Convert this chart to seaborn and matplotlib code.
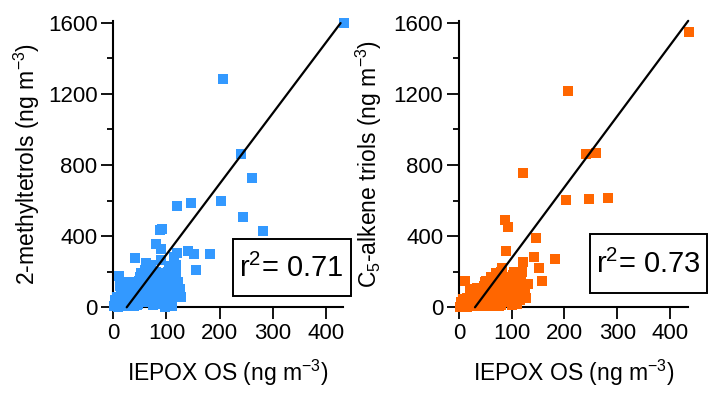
import matplotlib
matplotlib.use("Agg")
import matplotlib.pyplot as plt
import seaborn as sns
import numpy as np
import pandas as pd
from matplotlib.patches import Rectangle

# ---------------- data ----------------
# Left panel: IEPOX OS vs 2-methyltetrols
iepox_left = [2, 5, 8, 10, 12, 15, 18, 20, 22, 25, 28, 30, 32, 35, 38, 40, 3, 6, 14, 20,
              42, 45, 48, 50, 52, 55, 58, 60, 62, 65, 68, 70, 72, 75, 78, 80, 82, 85, 88, 90,
              95, 98, 100, 103, 105, 108, 110, 112, 115, 118, 120, 122, 125, 127, 97, 35, 46, 66,
              434, 207, 240, 260, 202, 120, 146, 244, 281, 88, 92, 80, 90, 141, 152, 182, 156,
              41, 11, 90, 115, 61, 119, 118, 25, 55, 75, 100, 110,
              5, 15, 25, 35, 45, 55, 65, 70, 75, 85, 95, 100, 105, 110, 50, 60, 30, 40, 20, 12,
              100, 115, 80, 90]
methyltetrols = [5, 15, 3, 30, 10, 45, 20, 5, 60, 35, 12, 70, 50, 25, 8, 90, 40, 60, 80, 95,
                 40, 110, 150, 70, 190, 30, 130, 210, 85, 160, 50, 240, 115, 180, 75, 200, 140, 40, 100, 170,
                 60, 3, 130, 200, 90, 30, 160, 220, 120, 180, 70, 140, 100, 60, 22, 120, 20, 110,
                 1600, 1283, 860, 725, 599, 569, 586, 506, 431, 432, 440, 356, 328, 318, 300, 300, 210,
                 275, 176, 266, 281, 247, 303, 240, 140, 60, 15, 20, 10,
                 25, 5, 50, 60, 15, 100, 120, 30, 90, 150, 190, 80, 230, 50, 170, 60, 110, 140, 130, 120,
                 170, 60, 20, 60]

# Right panel: IEPOX OS vs C5-alkene triols
iepox_right = [2, 5, 8, 10, 12, 15, 18, 20, 22, 25, 28, 30, 32, 35, 38, 40, 4, 8, 16, 24,
               42, 45, 48, 50, 52, 55, 58, 60, 62, 65, 68, 70, 72, 75, 78, 80, 82, 85, 88, 90,
               95, 98, 100, 103, 105, 108, 110, 112, 115, 116, 118, 120, 120, 122, 125, 127, 130,
               81, 89, 88, 93, 121, 143, 146, 152, 157, 182, 203, 207, 240, 260, 246, 283, 436,
               11, 121, 35, 55, 75, 100, 110, 65,
               5, 15, 25, 35, 45, 55, 65, 70, 75, 85, 95, 100, 105, 110, 50, 60, 30, 40, 20,
               100, 115, 80, 90, 60]
alkene_triols = [3, 10, 2, 20, 5, 30, 12, 40, 8, 25, 50, 15, 60, 35, 5, 70, 30, 45, 55, 75,
                 30, 90, 120, 55, 150, 20, 110, 170, 70, 140, 40, 190, 100, 160, 60, 200, 130, 30, 90, 160,
                 50, 40, 120, 180, 80, 20, 140, 190, 100, 181, 150, 60, 200, 120, 90, 50, 130,
                 219, 318, 490, 453, 753, 281, 391, 219, 148, 270, 603, 1217, 863, 865, 608, 614, 1545,
                 148, 256, 110, 15, 10, 15, 20, 80,
                 15, 3, 40, 50, 10, 80, 100, 25, 80, 130, 170, 70, 200, 40, 140, 50, 90, 110, 100,
                 150, 40, 15, 50, 10]

# linear fits (slope, intercept) and x-extent of the fit lines
fit_left = (3.97, -100.0)
fit_left_x = [25.2, 427.4]
fit_right = (3.98, -120.7)
fit_right_x = [30.3, 434.7]

r2_left = "0.71"
r2_right = "0.73"

xticks = [0, 100, 200, 300, 400]
yticks = [0, 400, 800, 1200, 1600]
yminor = [200, 600, 1000, 1400]

# ---------------- style ----------------
sns.set_style("ticks")
plt.rcParams["font.family"] = ["Liberation Sans", "DejaVu Sans"]
plt.rcParams["mathtext.fontset"] = "custom"
plt.rcParams["mathtext.rm"] = "Liberation Sans"
plt.rcParams["mathtext.it"] = "Liberation Sans"
plt.rcParams["mathtext.default"] = "regular"
plt.rcParams["text.color"] = "black"
plt.rcParams["axes.labelcolor"] = "black"
plt.rcParams["xtick.color"] = "black"
plt.rcParams["ytick.color"] = "black"

BLUE = "#3399FF"
ORANGE = "#FF6600"

fig = plt.figure(figsize=(7.19, 3.98), dpi=100)
ax1 = fig.add_axes([0.1576, 0.2279, 0.3195, 0.720])
ax2 = fig.add_axes([0.6384, 0.2279, 0.3190, 0.720])


def panel(ax, x, y, color, fit, fit_x, ylabel, r2, box, xmax):
    df = pd.DataFrame({"x": x, "y": y})
    sns.scatterplot(data=df, x="x", y="y", ax=ax, marker="s", s=44, color=color,
                    linewidth=0, clip_on=False, zorder=3)
    fx = np.array(fit_x)
    fdf = pd.DataFrame({"x": fx, "y": fit[0] * fx + fit[1]})
    sns.lineplot(data=fdf, x="x", y="y", ax=ax, color="black", linewidth=1.6,
                 zorder=4, clip_on=False)
    ax.set_xlim(0, xmax)
    ax.set_ylim(0, 1610)
    ax.set_xticks(xticks)
    ax.set_yticks(yticks)
    ax.set_yticks(yminor, minor=True)
    ax.tick_params(axis="both", which="major", direction="out", length=8.4, width=1.3,
                   labelsize=16, pad=3, color="black", labelcolor="black")
    ax.tick_params(axis="y", which="minor", direction="out", length=4, width=1.3, color="black")
    sns.despine(ax=ax)
    for s in ("left", "bottom"):
        ax.spines[s].set_linewidth(1.5)
        ax.spines[s].set_color("black")
    ax.set_xlabel("IEPOX OS (ng m$^{-3}$)", fontsize=16.5, color="black")
    ax.set_ylabel(ylabel, fontsize=16.5, color="black")
    ax.xaxis.set_label_coords(0.5, -0.175)
    x0, y0, x1, y1 = box
    ax.add_patch(Rectangle((x0, y0), x1 - x0, y1 - y0, transform=ax.transAxes,
                           fill=True, facecolor="white", edgecolor="black",
                           linewidth=1.4, clip_on=False, zorder=5))
    ax.text((x0 + x1) / 2, (y0 + y1) / 2 - 0.005, "r$^{2}$= " + r2, transform=ax.transAxes,
            ha="center", va="center", fontsize=21, color="black", zorder=6)


panel(ax1, iepox_left, methyltetrols, BLUE, fit_left, fit_left_x,
      "2-methyltetrols (ng m$^{-3}$)", r2_left, (0.52, 0.039, 1.033, 0.239), 432)
ax1.yaxis.set_label_coords(-0.31, 0.5)
panel(ax2, iepox_right, alkene_triols, ORANGE, fit_right, fit_right_x,
      "C$_{5}$-alkene triols (ng m$^{-3}$)", r2_right, (0.571, 0.051, 1.083, 0.255), 435)
ax2.yaxis.set_label_coords(-0.325, 0.5)

fig.savefig("out.png", dpi=100)
